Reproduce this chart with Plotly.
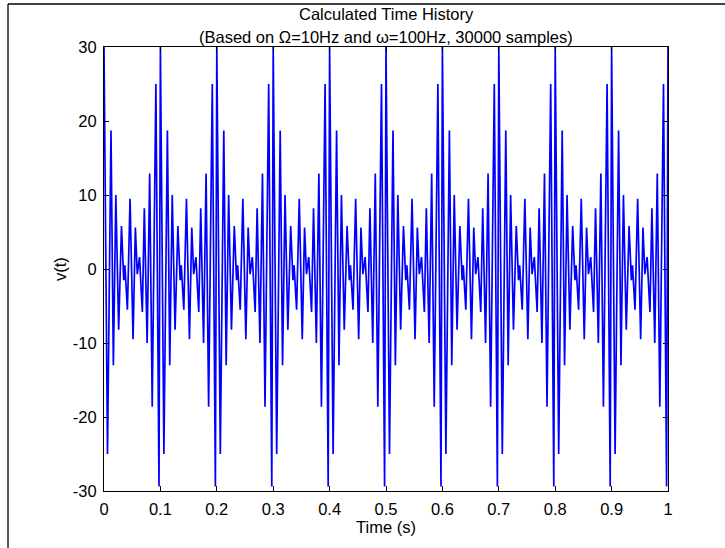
import plotly.graph_objects as go

# Extrema (peaks and troughs) of the calculated time history
peak_times = [
    0.0, 0.0062, 0.0124, 0.0166, 0.021, 0.026, 0.031, 0.035, 0.037, 0.0415, 0.0462, 0.0515, 0.0556, 0.059, 0.063, 0.068, 0.0715, 0.0765, 0.081, 0.0855, 0.092, 0.0975,
    0.1, 0.1062, 0.1124, 0.1166, 0.121, 0.126, 0.131, 0.135, 0.137, 0.1415, 0.1462, 0.1515, 0.1556, 0.159, 0.163, 0.168, 0.1715, 0.1765, 0.181, 0.1855, 0.192, 0.1975,
    0.2, 0.2062, 0.2124, 0.2166, 0.221, 0.226, 0.231, 0.235, 0.237, 0.2415, 0.2462, 0.2515, 0.2556, 0.259, 0.263, 0.268, 0.2715, 0.2765, 0.281, 0.2855, 0.292, 0.2975,
    0.3, 0.3062, 0.3124, 0.3166, 0.321, 0.326, 0.331, 0.335, 0.337, 0.3415, 0.3462, 0.3515, 0.3556, 0.359, 0.363, 0.368, 0.3715, 0.3765, 0.381, 0.3855, 0.392, 0.3975,
    0.4, 0.4062, 0.4124, 0.4166, 0.421, 0.426, 0.431, 0.435, 0.437, 0.4415, 0.4462, 0.4515, 0.4556, 0.459, 0.463, 0.468, 0.4715, 0.4765, 0.481, 0.4855, 0.492, 0.4975,
    0.5, 0.5062, 0.5124, 0.5166, 0.521, 0.526, 0.531, 0.535, 0.537, 0.5415, 0.5462, 0.5515, 0.5556, 0.559, 0.563, 0.568, 0.5715, 0.5765, 0.581, 0.5855, 0.592, 0.5975,
    0.6, 0.6062, 0.6124, 0.6166, 0.621, 0.626, 0.631, 0.635, 0.637, 0.6415, 0.6462, 0.6515, 0.6556, 0.659, 0.663, 0.668, 0.6715, 0.6765, 0.681, 0.6855, 0.692, 0.6975,
    0.7, 0.7062, 0.7124, 0.7166, 0.721, 0.726, 0.731, 0.735, 0.737, 0.7415, 0.7462, 0.7515, 0.7556, 0.759, 0.763, 0.768, 0.7715, 0.7765, 0.781, 0.7855, 0.792, 0.7975,
    0.8, 0.8062, 0.8124, 0.8166, 0.821, 0.826, 0.831, 0.835, 0.837, 0.8415, 0.8462, 0.8515, 0.8556, 0.859, 0.863, 0.868, 0.8715, 0.8765, 0.881, 0.8855, 0.892, 0.8975,
    0.9, 0.9062, 0.9124, 0.9166, 0.921, 0.926, 0.931, 0.935, 0.937, 0.9415, 0.9462, 0.9515, 0.9556, 0.959, 0.963, 0.968, 0.9715, 0.9765, 0.981, 0.9855, 0.992, 0.9975,
    1.0,
]
peak_values = [
    30, -25, 18.7, -13, 10, -8.2, 5.8, -1.5, 0.5, -5.5, 9.5, -9.5, 5.6, -0.7, 1.6, -5.8, 8.2, -10, 12.9, -18.6, 25, -29.4,
    30, -25, 18.7, -13, 10, -8.2, 5.8, -1.5, 0.5, -5.5, 9.5, -9.5, 5.6, -0.7, 1.6, -5.8, 8.2, -10, 12.9, -18.6, 25, -29.4,
    30, -25, 18.7, -13, 10, -8.2, 5.8, -1.5, 0.5, -5.5, 9.5, -9.5, 5.6, -0.7, 1.6, -5.8, 8.2, -10, 12.9, -18.6, 25, -29.4,
    30, -25, 18.7, -13, 10, -8.2, 5.8, -1.5, 0.5, -5.5, 9.5, -9.5, 5.6, -0.7, 1.6, -5.8, 8.2, -10, 12.9, -18.6, 25, -29.4,
    30, -25, 18.7, -13, 10, -8.2, 5.8, -1.5, 0.5, -5.5, 9.5, -9.5, 5.6, -0.7, 1.6, -5.8, 8.2, -10, 12.9, -18.6, 25, -29.4,
    30, -25, 18.7, -13, 10, -8.2, 5.8, -1.5, 0.5, -5.5, 9.5, -9.5, 5.6, -0.7, 1.6, -5.8, 8.2, -10, 12.9, -18.6, 25, -29.4,
    30, -25, 18.7, -13, 10, -8.2, 5.8, -1.5, 0.5, -5.5, 9.5, -9.5, 5.6, -0.7, 1.6, -5.8, 8.2, -10, 12.9, -18.6, 25, -29.4,
    30, -25, 18.7, -13, 10, -8.2, 5.8, -1.5, 0.5, -5.5, 9.5, -9.5, 5.6, -0.7, 1.6, -5.8, 8.2, -10, 12.9, -18.6, 25, -29.4,
    30, -25, 18.7, -13, 10, -8.2, 5.8, -1.5, 0.5, -5.5, 9.5, -9.5, 5.6, -0.7, 1.6, -5.8, 8.2, -10, 12.9, -18.6, 25, -29.4,
    30, -25, 18.7, -13, 10, -8.2, 5.8, -1.5, 0.5, -5.5, 9.5, -9.5, 5.6, -0.7, 1.6, -5.8, 8.2, -10, 12.9, -18.6, 25, -29.4,
    30,
]

x_ticks = [0, 0.1, 0.2, 0.3, 0.4, 0.5, 0.6, 0.7, 0.8, 0.9, 1]
x_tick_labels = ["0", "0.1", "0.2", "0.3", "0.4", "0.5", "0.6", "0.7", "0.8", "0.9", "1"]
y_ticks = [-30, -20, -10, 0, 10, 20, 30]
y_tick_labels = ["-30", "-20", "-10", "0", "10", "20", "30"]

FONT = "Liberation Sans, Arial, sans-serif"
FS = 16.5

fig = go.Figure()
fig.add_trace(go.Scatter(
    x=peak_times, y=peak_values, mode="lines",
    line=dict(color="#0000FF", width=1.7),
    showlegend=False, hoverinfo="skip",
))

axis_common = dict(
    showline=True, linecolor="black", linewidth=1, mirror="ticks",
    ticks="inside", ticklen=5, tickcolor="black", tickwidth=1,
    showgrid=False, zeroline=False, ticklabelstandoff=3,
    tickfont=dict(family=FONT, size=FS, color="black"),
)

fig.update_layout(
    width=725, height=548,
    margin=dict(l=104, r=57, t=47, b=57),
    paper_bgcolor="white", plot_bgcolor="white",
    font=dict(family=FONT, size=FS, color="black"),
    xaxis=dict(range=[0, 1], tickvals=x_ticks, ticktext=x_tick_labels, **axis_common),
    yaxis=dict(range=[-30, 30], tickvals=y_ticks, ticktext=y_tick_labels, **axis_common),
    annotations=[
        dict(text="Calculated Time History", xref="paper", yref="paper",
             x=0.5, y=1.074, xanchor="center", yanchor="middle", showarrow=False,
             font=dict(family=FONT, size=FS, color="black")),
        dict(text="(Based on Ω=10Hz and ω=100Hz, 30000 samples)", xref="paper", yref="paper",
             x=0.5, y=1.0235, xanchor="center", yanchor="middle", showarrow=False,
             font=dict(family=FONT, size=FS, color="black")),
        dict(text="Time (s)", xref="paper", yref="paper",
             x=0.5, y=-0.081, xanchor="center", yanchor="middle", showarrow=False,
             font=dict(family=FONT, size=FS, color="black")),
        dict(text="v(t)", xref="paper", yref="paper", textangle=-90,
             x=-0.078, y=0.5, xanchor="center", yanchor="middle", showarrow=False,
             font=dict(family=FONT, size=FS, color="black")),
    ],
    shapes=[
        dict(type="line", xref="paper", yref="paper", x0=-0.1702, x1=-0.1702, y0=1.0968, y1=-0.14,
             line=dict(color="black", width=1.3)),
        dict(type="line", xref="paper", yref="paper", x0=-0.1702, x1=1.11, y0=1.0968, y1=1.0968,
             line=dict(color="black", width=1.3)),
    ],
)

fig.write_html("out.html")
